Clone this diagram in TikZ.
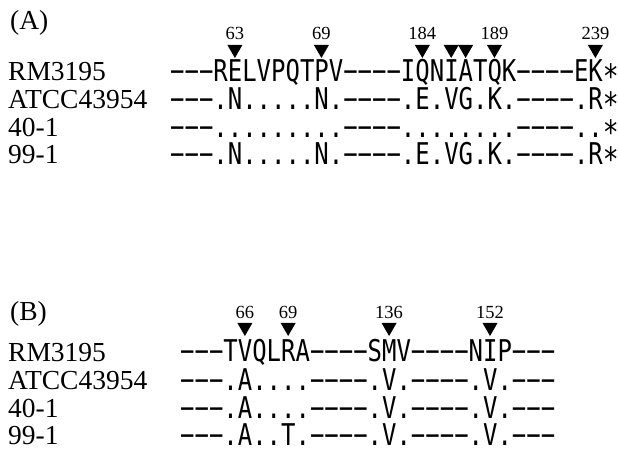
\documentclass[tikz,border=0pt]{standalone}
\usepackage{fontspec}
\setmainfont{Liberation Serif}
\newfontfamily\seqfont[FakeStretch=0.8]{DejaVu Sans Mono}
\newcommand\stopc{{\fontsize{33}{33}\seqfont ∗}}
\usetikzlibrary{positioning}

\begin{document}
\begin{tikzpicture}[x=1pt,y=-1pt,
  strain/.style={anchor=base west,inner sep=0pt,font=\fontsize{27.5}{30}\selectfont},
  seq/.style={anchor=base west,inner sep=0pt,text height=22pt,text depth=1pt,font=\fontsize{29.95}{32}\seqfont},
  num/.style={anchor=base,inner sep=0pt,font=\fontsize{18.5}{20}\selectfont},
  tri/.style={fill=black}]
\useasboundingbox (0,0) rectangle (619,465);
% panel A
\node[strain] (pa) at (10,30) {(A)};
\node[strain] (a1) at (8,81) {RM3195};
\node[strain] (a2) at (8,109) {ATCC43954};
\node[strain] (a3) at (8,137) {40-1};
\node[strain] (a4) at (8,164) {99-1};
\node[seq] (sa1) at (170,82) {−−−RELVPQTPV−−−−IQNIATQK−−−−EK\stopc};
\node[seq] (sa2) at (170,110) {−−−.N.....N.−−−−.E.VG.K.−−−−.R\stopc};
\node[seq] (sa3) at (170,138) {−−−.........−−−−........−−−−..\stopc};
\node[seq] (sa4) at (170,165) {−−−.N.....N.−−−−.E.VG.K.−−−−.R\stopc};
\foreach \k/\n in {5/63,11/69,18/184,23/189,30/239}{
  \node[num] (na\n) at ({170+(\k-0.5)*14.42},40) {\n};
}
\foreach \k in {5,11,18,20,21,23,30}{
  \fill[tri] ({170+(\k-0.5)*14.42-7.5},45) -- ++(15,0) -- ({170+(\k-0.5)*14.42},58) -- cycle;
}
% panel B
\node[strain] (pb) at (10,320) {(B)};
\node[strain] (b1) at (8,361) {RM3195};
\node[strain] (b2) at (8,389) {ATCC43954};
\node[strain] (b3) at (8,417) {40-1};
\node[strain] (b4) at (8,444) {99-1};
\node[seq] (sb1) at (180,362) {−−−TVQLRA−−−−SMV−−−−NIP−−−};
\node[seq] (sb2) at (180,390) {−−−.A....−−−−.V.−−−−.V.−−−};
\node[seq] (sb3) at (180,418) {−−−.A....−−−−.V.−−−−.V.−−−};
\node[seq] (sb4) at (180,445) {−−−.A..T.−−−−.V.−−−−.V.−−−};
\foreach \k/\n in {5/66,8/69,15/136,22/152}{
  \node[num] (nb\n) at ({180+(\k-0.5)*14.42},319) {\n};
  \fill[tri] ({180+(\k-0.5)*14.42-7.5},323) -- ++(15,0) -- ({180+(\k-0.5)*14.42},336) -- cycle;
}
\end{tikzpicture}
\end{document}
